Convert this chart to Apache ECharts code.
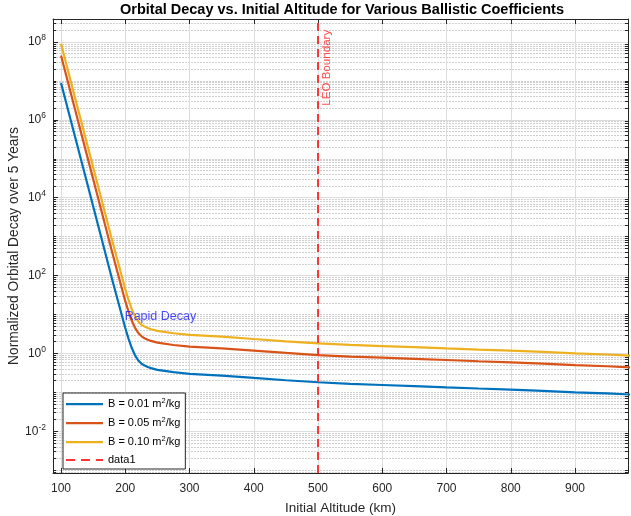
<!DOCTYPE html>
<html><head><meta charset="utf-8">
<script src="https://cdn.jsdelivr.net/npm/echarts@6/dist/echarts.min.js"></script>
<style>html,body{margin:0;padding:0;background:#fff}#c{width:631px;height:516px}</style>
</head><body><div id="c"></div>
<script>
// ---- data ----
const altitudes = [100,120,140,160,180,200,205,210,215,220,225,230,235,240,250,275,300,350,400,450,500,550,600,650,700,750,800,850,900,950,1000];
const decayB001 = [8.9e6,4.8e5,2.6e4,1.4e3,75,4.5,2.4,1.4,0.91,0.67,0.55,0.49,0.45,0.42,0.38,0.33,0.30,0.27,0.235,0.205,0.182,0.166,0.155,0.145,0.135,0.126,0.118,0.11,0.10,0.094,0.086];
const decayB005 = [4.5e7,2.4e6,1.3e5,7.0e3,375,22,12,7.0,4.6,3.4,2.8,2.45,2.25,2.1,1.9,1.65,1.5,1.35,1.18,1.03,0.91,0.83,0.78,0.73,0.68,0.63,0.59,0.55,0.50,0.47,0.43];
const decayB010 = [9.0e7,4.8e6,2.6e5,1.4e4,750,45,24,14,9.1,6.7,5.5,4.9,4.5,4.2,3.8,3.3,3.0,2.7,2.35,2.05,1.82,1.66,1.55,1.45,1.35,1.26,1.18,1.10,1.0,0.94,0.86];
const seriesNames = ['B = 0.01 m²/kg','B = 0.05 m²/kg','B = 0.10 m²/kg','data1'];
const seriesColors = ['#0072BD','#D95319','#EDB120','#ff3535'];
const leoX = 500;
const leoLabel = 'LEO Boundary';
const leoLabelPos = [504, 2.3e6];
const rapidLabel = 'Rapid Decay';
const rapidLabelPos = [199, 8.7];
const xTicks = [100,200,300,400,500,600,700,800,900];
const yMajorTicks = [1e-2,1,1e2,1e4,1e6,1e8];
const xRange = [87.5, 982.5];
const yRange = [8.5e-4, 3.9e8];
const titleText = 'Orbital Decay vs. Initial Altitude for Various Ballistic Coefficients';
const xName = 'Initial Altitude (km)';
const yName = 'Normalized Orbital Decay over 5 Years';

// minor log ticks (axis helper)
const yMinorTicks = [];
for (let e = -4; e <= 8; e++) {
  for (let k = 1; k <= 9; k++) {
    if (k === 1 && e % 2 === 0) continue;
    yMinorTicks.push(k * Math.pow(10, e));
  }
}

const FONT = '"Liberation Sans", Arial, Helvetica, sans-serif';
const AX = '#262626';
const SOLID_ICON = 'path://M0,0h0.01v0.01h-0.01z M0,5h37v2.2h-37z M0,12h0.01v0.01h-0.01z';
const DASH_ICON = 'path://M0,0h0.01v0.01h-0.01z M0,5h9v2h-9z M15,5h9v2h-9z M30,5h7v2h-7z M0,12h0.01v0.01h-0.01z';
const chart = echarts.init(document.getElementById('c'), null, {renderer: 'canvas'});

function pairs(ys) { return altitudes.map((a, i) => [a, ys[i]]); }
function supFmt(name) { return name.replace('m²', 'm{s|2}'); }
const yLabelFmt = v => '{b|10}{s|' + Math.round(Math.log10(v)) + '}';

const option = {
  animation: false,
  backgroundColor: '#ffffff',
  textStyle: {fontFamily: FONT},
  title: {
    text: titleText, left: 342, top: 2, textAlign: 'center', padding: 0,
    textStyle: {fontSize: 14.5, fontWeight: 'bold', color: '#000', fontFamily: FONT}
  },
  grid: {left: 53, right: 3, top: 19, bottom: 43, containLabel: false, outerBoundsMode: 'none'},
  legend: {
    orient: 'vertical', left: 63, top: 393,
    data: seriesNames.map((n, i) => ({name: n, icon: i === 3 ? DASH_ICON : SOLID_ICON})),
    itemWidth: 37, itemHeight: 12, itemGap: 6,
    padding: [4, 5, 3, 3],
    borderColor: AX, borderWidth: 1, backgroundColor: '#fff',
    itemStyle: {borderWidth: 0},
    formatter: supFmt,
    textStyle: {
      fontSize: 11, color: '#000', fontFamily: FONT,
      rich: {s: {fontSize: 7.5, padding: [0, 0, 6, 0], fontFamily: FONT, color: '#000'}}
    }
  },
  xAxis: [
    {
      type: 'value', position: 'bottom', min: xRange[0], max: xRange[1],
      name: xName, nameLocation: 'middle', nameGap: 28, nameMoveOverlap: false,
      nameTextStyle: {fontSize: 13.5, color: AX, fontFamily: FONT},
      axisLine: {show: true, lineStyle: {color: AX, width: 1}},
      axisTick: {show: true, inside: true, length: 5, customValues: xTicks, lineStyle: {color: AX}},
      axisLabel: {show: true, customValues: xTicks, margin: 10, fontSize: 12, color: AX, fontFamily: FONT},
      splitLine: {show: true, lineStyle: {color: '#dcdcdc', width: 1}},
      minorTick: {show: false}
    },
    {
      type: 'value', position: 'top', min: xRange[0], max: xRange[1],
      axisLine: {show: true, lineStyle: {color: AX, width: 1}},
      axisTick: {show: true, inside: true, length: 5, customValues: xTicks, lineStyle: {color: AX}},
      axisLabel: {show: false},
      splitLine: {show: false}
    }
  ],
  yAxis: [
    {
      type: 'log', logBase: 10, position: 'left', min: yRange[0], max: yRange[1],
      name: yName, nameLocation: 'middle', nameGap: 32, nameMoveOverlap: false,
      nameTextStyle: {fontSize: 13.8, color: AX, fontFamily: FONT},
      axisLine: {show: true, lineStyle: {color: AX, width: 1}},
      axisTick: {show: true, inside: true, length: 5, customValues: yMajorTicks, lineStyle: {color: AX}},
      axisLabel: {
        show: true, customValues: yMajorTicks, margin: 7, formatter: yLabelFmt, color: AX,
        rich: {
          b: {fontSize: 12, color: AX, fontFamily: FONT},
          s: {fontSize: 8.5, color: AX, fontFamily: FONT, padding: [0, 0, 8, 0]}
        }
      },
      splitLine: {show: true, lineStyle: {color: '#dcdcdc', width: 1}},
      z: 3
    },
    {
      type: 'log', logBase: 10, position: 'left', min: yRange[0], max: yRange[1],
      axisLine: {show: false},
      axisTick: {show: true, inside: true, length: 3, customValues: yMinorTicks, lineStyle: {color: AX}},
      axisLabel: {show: false},
      splitLine: {show: true, lineStyle: {color: '#cfcfcf', width: 1, type: [2, 1]}}
    },
    {
      type: 'log', logBase: 10, position: 'right', min: yRange[0], max: yRange[1],
      axisLine: {show: true, lineStyle: {color: AX, width: 1}},
      axisTick: {show: true, inside: true, length: 5, customValues: yMajorTicks, lineStyle: {color: AX}},
      axisLabel: {show: false},
      splitLine: {show: false}
    },
    {
      type: 'log', logBase: 10, position: 'right', min: yRange[0], max: yRange[1],
      axisLine: {show: false},
      axisTick: {show: true, inside: true, length: 3, customValues: yMinorTicks, lineStyle: {color: AX}},
      axisLabel: {show: false},
      splitLine: {show: false}
    }
  ],
  series: [
    {name: seriesNames[0], type: 'line', data: pairs(decayB001), symbol: 'none', clip: true,
     lineStyle: {width: 2.2, color: seriesColors[0]}, itemStyle: {color: seriesColors[0]}, z: 5},
    {name: seriesNames[1], type: 'line', data: pairs(decayB005), symbol: 'none', clip: true,
     lineStyle: {width: 2.2, color: seriesColors[1]}, itemStyle: {color: seriesColors[1]}, z: 5},
    {name: seriesNames[2], type: 'line', data: pairs(decayB010), symbol: 'none', clip: true,
     lineStyle: {width: 2.2, color: seriesColors[2]}, itemStyle: {color: seriesColors[2]}, z: 5},
    {name: seriesNames[3], type: 'line', data: [[leoX, yRange[0]], [leoX, yRange[1]]], symbol: 'none', clip: true,
     lineStyle: {width: 2, color: seriesColors[3], type: [8, 5]}, itemStyle: {color: seriesColors[3]}, z: 6},
    {name: 'annot', type: 'scatter', silent: true, symbolSize: 0, z: 7,
     data: [
       {value: leoLabelPos, label: {show: true, formatter: leoLabel, position: [0, 0], rotate: 90, align: 'left', verticalAlign: 'top',
         color: '#ff2020', fontSize: 11.6, fontFamily: FONT}},
       {value: rapidLabelPos, label: {show: true, formatter: rapidLabel, position: 'right', distance: 0, offset: [0, 0],
         color: '#1a1aff', fontSize: 12.5, fontFamily: FONT}}
     ]}
  ]
};
chart.setOption(option);
</script>
</body></html>
